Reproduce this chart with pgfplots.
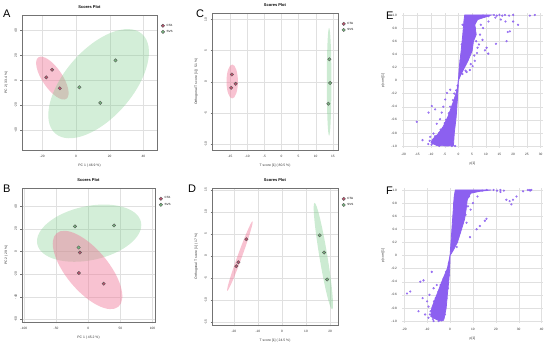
\documentclass[border=0pt]{standalone}
\usepackage{fontspec}
\setmainfont{Liberation Sans}
\usepackage{pgfplots}
\pgfplotsset{compat=1.18}

\definecolor{redpt}{RGB}{196,82,112}
\definecolor{redell}{RGB}{240,120,152}
\definecolor{greenpt}{RGB}{120,186,128}
\definecolor{greenell}{RGB}{128,206,142}
\definecolor{splot}{RGB}{140,96,240}

\pgfplotsset{
  base/.style={scale only axis, clip=true,
    axis line style={black!55, line width=0.4pt},
    grid=major, grid style={black!12, line width=0.3pt},
    tick align=outside, tick pos=left, major tick length=1.5pt,
    tick style={black!55, line width=0.3pt},
    tick label style={font=\fontsize{3.2}{3.6}\selectfont, text=black!80},
    label style={font=\fontsize{3.4}{3.8}\selectfont, text=black!80},
    /pgf/number format/assume math mode=true},
  scores/.style={base,
    title={Scores Plot},
    title style={font=\fontsize{4}{4.5}\selectfont\bfseries, yshift=-3.5pt},
    yticklabel style={rotate=90},
    legend style={at={(1.03,0.95)}, anchor=north west, draw=none, fill=none,
      font=\fontsize{3}{3.4}\selectfont, row sep=-1.5pt, inner sep=0pt},
    legend cell align=left},
  ptred/.style={only marks, mark=*, mark size=1.7pt, mark options={fill=redpt, draw=black!65, line width=0.4pt}},
  ptgreen/.style={only marks, mark=*, mark size=1.7pt, mark options={fill=greenpt, draw=black!65, line width=0.4pt}},
  splt/.style={base, axis line style={draw=none}, tick style={draw=none},
    ymin=-1.03, ymax=1.03, ytick={-1,-0.8,-0.6,-0.4,-0.2,0,0.2,0.4,0.6,0.8,1},
    yticklabels={-1.0,-0.8,-0.6,-0.4,-0.2,0,0.2,0.4,0.6,0.8,1.0},
    xlabel={p[1]}, ylabel={p(corr)[1]}},
  core/.style={fill=splot, draw=splot, line width=0.8pt},
  scat/.style={only marks, mark=*, mark size=0.9pt, mark options={fill=splot, draw=splot, fill opacity=0.7, draw opacity=0.9}}
}

\begin{document}
\begin{tikzpicture}
\path[use as bounding box] (0pt,0pt) rectangle (550pt,348pt);

% ---------- A ----------
\begin{axis}[scores, at={(22pt,198pt)}, anchor=south west, width=135pt, height=135pt,
  xmin=-32, xmax=48, ymin=-56, ymax=52.5,
  xtick={-20,0,20,40}, ytick={-40,-20,0,20,40},
  xlabel={PC 1 ( 46.9 \%)}, ylabel={PC 2 ( 33.4 \%)}]
\fill[redell, opacity=0.45] (axis cs:-14,1.8) ellipse [x radius=25pt, y radius=10pt, rotate=-56];
\fill[greenell, opacity=0.35] (axis cs:13.4,-2.7) ellipse [x radius=66pt, y radius=34pt, rotate=49];
\addplot[ptred] coordinates {(-14.2,8.5) (-17.6,2.4) (-9.6,-6.4)};
\addlegendentry{CTA}
\addplot[ptgreen] coordinates {(2,-5.6) (14.4,-18.1) (23.4,16)};
\addlegendentry{SVS}
\end{axis}

% ---------- B ----------
\begin{axis}[scores, at={(22pt,26pt)}, anchor=south west, width=133pt, height=134pt,
  xmin=-103, xmax=104, ymin=-62.4, ymax=56.3,
  xtick={-100,-50,0,50,100}, ytick={-60,-40,-20,0,20,40},
  xlabel={PC 1 ( 45.2 \%)}, ylabel={PC 2 ( 29 \%)}]
\fill[greenell, opacity=0.35] (axis cs:1.5,16.3) ellipse [x radius=53pt, y radius=27pt, rotate=12];
\fill[redell, opacity=0.45] (axis cs:-1,-16.3) ellipse [x radius=48pt, y radius=21pt, rotate=-50];
\addplot[ptred] coordinates {(-12.9,-0.9) (-14.4,-19) (24.2,-28.5)};
\addlegendentry{CTA}
\addplot[ptgreen] coordinates {(-20.6,22.3) (40.2,23.1) (-14.9,3.6)};
\addlegendentry{SVS}
\end{axis}

% ---------- C ----------
\begin{axis}[scores, at={(212pt,198pt)}, anchor=south west, width=126pt, height=137pt,
  xmin=-20.3, xmax=16.5, ymin=-10.9, ymax=11,
  xtick={-15,-10,-5,0,5,10,15}, ytick={-10,-5,0,5,10},
  xlabel={T score [1] ( 80.5 \%)}, ylabel={Orthogonal T score [1] ( 5.1 \%)}]
\fill[redell, opacity=0.45] (axis cs:-14.4,0.05) ellipse [x radius=5.7pt, y radius=17pt];
\fill[greenell, opacity=0.4] (axis cs:13.9,0) ellipse [x radius=2.3pt, y radius=54pt];
\addplot[ptred] coordinates {(-14.5,1.17) (-13.4,-0.32) (-14.7,-0.96)};
\addlegendentry{CTA}
\addplot[ptgreen] coordinates {(14.0,3.6) (14.2,-0.2) (13.7,-3.5)};
\addlegendentry{SVS}
\end{axis}

% ---------- D ----------
\begin{axis}[scores, at={(212pt,23pt)}, anchor=south west, width=126pt, height=137pt,
  xmin=-29.1, xmax=23.3, ymin=-15.6, ymax=15.4,
  xtick={-20,-10,0,10,20}, ytick={-15,-10,-5,0,5,10,15},
  xlabel={T score [1] ( 24.5 \%)}, ylabel={Orthogonal T score [1] ( 17 \%)}]
\fill[redell, opacity=0.45] (axis cs:-17.5,0) ellipse [x radius=37pt, y radius=2.2pt, rotate=70];
\fill[greenell, opacity=0.4] (axis cs:17.2,0) ellipse [x radius=54pt, y radius=4pt, rotate=-80.6];
\addplot[ptred] coordinates {(-14.8,3.8) (-18.1,-1.4) (-19.0,-2.3)};
\addlegendentry{CTA}
\addplot[ptgreen] coordinates {(15.7,4.7) (17.5,0.8) (18.8,-5.3)};
\addlegendentry{SVS}
\end{axis}

% ---------- E ----------
\begin{axis}[splt, at={(402pt,200pt)}, anchor=south west, width=141pt, height=135pt,
  xmin=-20.6, xmax=30.9, xtick={-20,-15,-10,-5,0,5,10,15,20,25,30}]
\addplot[core] coordinates {(0,0) (0.3,0.2) (1.0,0.45) (1.6,0.7) (2.0,0.9) (2.3,1.0) (12,1.0) (10,0.97) (7,0.93) (6,0.85) (6.5,0.7) (5.5,0.6) (5,0.45) (3.5,0.3) (2,0.18) (0.8,0.08) (0,0)} -- cycle;
\addplot[core] coordinates {(0,0) (-0.5,-0.15) (-1.5,-0.28) (-2.5,-0.4) (-3.8,-0.55) (-5.5,-0.7) (-7.5,-0.82) (-9.5,-0.9) (-10,-0.95) (-8,-0.99) (-4,-1.0) (-1.8,-0.99) (-1.5,-0.8) (-0.8,-0.55) (-0.4,-0.3) (-0.1,-0.1) (0,0)} -- cycle;
\addplot[scat] coordinates {
 (13,1.0) (14,0.99) (15,1.0) (16,0.99) (17,1.0) (18.5,0.99) (20,1.0) (26.1,0.99) (27.9,1.0)
 (13.5,0.96) (15.5,0.93) (17.2,0.9) (20,0.9) (21.8,0.85) (18.8,0.75) (18,0.74) (17.6,0.6)
 (13.7,0.56) (10.9,0.41) (9.7,0.46) (4.2,0.16) (3,0.13) (7.9,0.7) (8.8,0.62) (10.3,0.5)
 (9,0.8) (7.5,0.55) (6.8,0.42) (8.2,0.85) (11,0.9) (6,0.3) (5.2,0.22)
 (1.5,0.3) (2.5,0.35) (3,0.5) (4,0.55) (4.5,0.65) (5.5,0.75) (6,0.8) (5,0.95) (3,0.97)
 (1.2,0.55) (1.5,0.85) (0.8,0.3) (2,0.6) (3.5,0.75) (4.2,0.9) (7.5,0.97) (9,0.99) (11,0.98)
 (6.5,0.6) (7,0.5) (5.8,0.38) (4.5,0.25) (2.6,0.15) (1.5,0.1)
 (-3,-0.14) (-4.2,-0.19) (-4.8,-0.29) (-8.5,-0.44) (-9.7,-0.39) (-10.9,-0.49) (-15.2,-0.63)
 (-13.1,-0.91) (-7.9,-0.66) (-6.7,-0.59) (-9.1,-0.81) (-10.3,-0.86) (-6.1,-0.49) (-5.5,-0.4)
 (-11,-0.97) (-10.5,-0.92) (-1.2,-1.0) (-2.4,-1.0)
 (-0.8,-0.15) (-1.5,-0.2) (-2,-0.3) (-3,-0.4) (-3.5,-0.5) (-4.5,-0.6) (-5,-0.65) (-6.5,-0.75)
 (-7,-0.8) (-8.5,-0.85) (-9,-0.92) (-9.8,-0.98) (-7,-1.0) (-5,-0.97) (-2.2,-0.9) (-2,-0.75)
 (-1.4,-0.65) (-1,-0.45) (-0.6,-0.3) (-0.3,-0.08)};
\end{axis}

% ---------- F ----------
\begin{axis}[splt, at={(402pt,25pt)}, anchor=south west, width=141pt, height=135pt,
  xmin=-21, xmax=40.6, xtick={-20,-10,0,10,20,30,40}]
\addplot[core] coordinates {(0,0) (0.4,0.2) (0.9,0.45) (1.4,0.7) (1.8,0.9) (2.3,1.0) (18,1.0) (13,0.98) (9,0.95) (7.5,0.85) (7,0.7) (6.3,0.55) (5,0.4) (3.2,0.2) (1.4,0.08) (0,0)} -- cycle;
\addplot[core] coordinates {(0,0) (-1.2,-0.2) (-3.6,-0.4) (-5.8,-0.6) (-8,-0.8) (-8.4,-0.93) (-5.8,-0.98) (-3.6,-1.0) (-2.6,-0.96) (-1.7,-0.8) (-1.2,-0.6) (-0.6,-0.4) (-0.15,-0.2) (0,0)} -- cycle;
\addplot[scat] coordinates {
 (19,1.0) (20.5,0.99) (22,1.0) (23.5,0.99) (22,0.97) (24.6,0.85) (26,0.83) (27.5,0.85)
 (26.8,0.78) (29,0.9) (31.9,0.98) (34,1.0) (34.8,1.0) (35.5,1.0) (35,0.99)
 (11.6,0.4) (13,0.45) (15.2,0.53) (15.9,0.56) (8.7,0.28) (7.2,0.5) (2.9,0.13) (9,0.7) (10,0.8) (12,0.9)
 (0.8,0.3) (1.5,0.5) (2.5,0.4) (3.5,0.3) (4.5,0.45) (5.5,0.5) (6.8,0.62) (7.8,0.75) (8.2,0.9)
 (6,0.9) (4,0.8) (3,0.65) (1.8,0.8) (10,0.97) (14,0.99) (16,1.0) (5,0.7) (2,0.25) (4,0.35)
 (-8,-0.25) (-11.6,-0.38) (-13,-0.4) (-18.8,-0.58) (-17.4,-0.55) (-13.8,-0.85) (-9.4,-0.78)
 (-10,-0.7) (-7.2,-0.5) (-5.8,-0.45) (-10.9,-0.9) (-9.4,-0.95) (-7.2,-1.0) (-9,-0.6) (-12,-0.65)
 (-0.5,-0.12) (-1.8,-0.25) (-2.8,-0.35) (-4.2,-0.45) (-5,-0.55) (-6.3,-0.65) (-7,-0.7)
 (-8.5,-0.85) (-8.8,-0.9) (-7.5,-0.97) (-5,-1.0) (-3,-0.98) (-2.2,-0.9) (-2,-0.75)
 (-1.5,-0.65) (-0.9,-0.5) (-0.4,-0.3)};
\end{axis}

% ---------- panel letters ----------
\begin{scope}[every node/.style={font=\fontsize{11}{11}\selectfont, anchor=north west, inner sep=0pt}]
\node at (3pt,338pt) {A};
\node at (196pt,338pt) {C};
\node at (386pt,336pt) {E};
\node at (3pt,163pt) {B};
\node at (188pt,163pt) {D};
\node at (386pt,161pt) {F};
\end{scope}
\end{tikzpicture}
\end{document}
